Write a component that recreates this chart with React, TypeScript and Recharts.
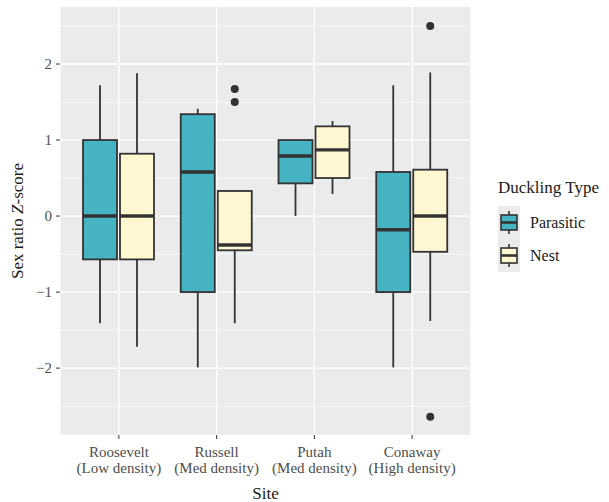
import { Bar, BarChart, CartesianGrid, Legend, XAxis, YAxis } from "recharts";

const sites = ["Roosevelt", "Russell", "Putah", "Conaway"];
const densities = ["(Low density)", "(Med density)", "(Med density)", "(High density)"];

const parasiticLow = [-1.41, -1.99, 0.0, -1.99];
const parasiticQ1 = [-0.57, -1.0, 0.43, -1.0];
const parasiticMedian = [0.0, 0.58, 0.79, -0.18];
const parasiticQ3 = [1.0, 1.34, 1.0, 0.58];
const parasiticHigh = [1.72, 1.41, 1.0, 1.72];
const parasiticOutliers: number[][] = [[], [], [], []];

const nestLow = [-1.72, -1.41, 0.29, -1.38];
const nestQ1 = [-0.57, -0.45, 0.5, -0.47];
const nestMedian = [0.0, -0.38, 0.87, 0.0];
const nestQ3 = [0.82, 0.33, 1.18, 0.61];
const nestHigh = [1.88, 0.33, 1.25, 1.89];
const nestOutliers: number[][] = [[], [1.5, 1.67], [], [2.5, -2.64]];

const seriesNames = ["Parasitic", "Nest"];
const yTicks = [-2, -1, 0, 1, 2];
const yMinor = [-2.5, -1.5, -0.5, 0.5, 1.5, 2.5];

const FONT = "Liberation Serif, Times New Roman, Times, Noto Serif, DejaVu Serif, FreeSerif, serif";
const INK = "#333333";
const PARASITIC = "#46B3C3";
const NEST = "#FFF7D2";
const seriesColors = [PARASITIC, NEST];

type Stats = { low: number; q1: number; med: number; q3: number; high: number; out: number[] };

const data = sites.map((site, i) => ({
  site,
  density: densities[i],
  parasitic: [parasiticLow[i], parasiticHigh[i]],
  nest: [nestLow[i], nestHigh[i]],
  parasiticStats: {
    low: parasiticLow[i],
    q1: parasiticQ1[i],
    med: parasiticMedian[i],
    q3: parasiticQ3[i],
    high: parasiticHigh[i],
    out: parasiticOutliers[i],
  },
  nestStats: {
    low: nestLow[i],
    q1: nestQ1[i],
    med: nestMedian[i],
    q3: nestQ3[i],
    high: nestHigh[i],
    out: nestOutliers[i],
  },
}));

// the range bar spans the whiskers; everything else is placed on the same linear scale
function BoxShape(props: any) {
  const { x, y, width, height, payload, fill, statsKey } = props;
  const s: Stats = payload[statsKey];
  const top = Math.min(y, y + height);
  const bot = Math.max(y, y + height);
  const toPx = (v: number) => bot - ((v - s.low) / (s.high - s.low)) * (bot - top);
  const cx = x + width / 2;
  return (
    <g>
      <line x1={cx} x2={cx} y1={toPx(s.high)} y2={toPx(s.q3)} stroke={INK} strokeWidth={1.8} />
      <line x1={cx} x2={cx} y1={toPx(s.q1)} y2={toPx(s.low)} stroke={INK} strokeWidth={1.8} />
      <rect
        x={x}
        y={toPx(s.q3)}
        width={width}
        height={toPx(s.q1) - toPx(s.q3)}
        fill={fill}
        stroke={INK}
        strokeWidth={1.8}
      />
      <line x1={x} x2={x + width} y1={toPx(s.med)} y2={toPx(s.med)} stroke={INK} strokeWidth={3.4} />
      {s.out.map((v, k) => (
        <circle key={k} cx={cx} cy={toPx(v)} r={4} fill={INK} />
      ))}
    </g>
  );
}

function SiteTick(props: any) {
  const { x, y, payload, index } = props;
  return (
    <text x={x} y={y} textAnchor="middle" fill="#4D4D4D" fontSize={15} style={{ fontFamily: FONT }}>
      <tspan x={x} dy={16}>
        {payload.value}
      </tspan>
      <tspan x={x} dy={16}>
        {densities[index]}
      </tspan>
    </text>
  );
}

function LegendKey({ color }: { color: string }) {
  return (
    <svg width={22} height={33} style={{ display: "block" }}>
      <rect x={0} y={0} width={22} height={33} fill="#EBEBEB" />
      <line x1={11} x2={11} y1={5} y2={28} stroke={INK} strokeWidth={1.6} />
      <rect x={3} y={9} width={16} height={15} fill={color} stroke={INK} strokeWidth={1.6} />
      <line x1={3} x2={19} y1={16.5} y2={16.5} stroke={INK} strokeWidth={2.6} />
    </svg>
  );
}

function DucklingLegend() {
  return (
    <div style={{ paddingLeft: 27, fontFamily: FONT, color: "#1A1A1A" }}>
      <div style={{ fontSize: 17, lineHeight: "20px", marginBottom: 8 }}>Duckling Type</div>
      {seriesNames.map((label, i) => (
        <div key={label} style={{ display: "flex", alignItems: "center", height: 33 }}>
          <LegendKey color={seriesColors[i]} />
          <span style={{ fontSize: 16, marginLeft: 10 }}>{label}</span>
        </div>
      ))}
    </div>
  );
}

export default function App() {
  return (
    <div
      style={{
        position: "absolute",
        left: 0,
        top: 0,
        width: 609,
        height: 502,
        background: "#fff",
        fontFamily: FONT,
      }}
    >
      <BarChart
        width={609}
        height={502}
        data={data}
        margin={{ top: 7, right: 0, bottom: 0, left: 0 }}
        barCategoryGap={13}
        barGap={3}
        style={{ fontFamily: FONT }}
      >
        <CartesianGrid
          fill="#EBEBEB"
          stroke="#FFFFFF"
          strokeWidth={0.6}
          vertical={false}
          horizontalValues={yMinor}
        />
        <CartesianGrid stroke="#FFFFFF" strokeWidth={1.3} horizontalValues={yTicks} />
        <XAxis
          dataKey="site"
          height={67}
          interval={0}
          axisLine={false}
          tickLine={{ stroke: INK }}
          tickSize={4}
          tickMargin={2}
          padding={{ left: 10, right: 10 }}
          tick={<SiteTick />}
          label={{
            content: ({ viewBox }: any) => (
              <text
                x={viewBox.x + viewBox.width / 2}
                y={viewBox.y + viewBox.height - 3}
                textAnchor="middle"
                fontSize={17}
                style={{ fontFamily: FONT }}
                fill="#1A1A1A"
              >
                Site
              </text>
            ),
          }}
        />
        <YAxis
          type="number"
          width={60}
          domain={[-2.88, 2.75]}
          allowDataOverflow
          ticks={yTicks}
          axisLine={false}
          tickLine={{ stroke: INK }}
          tickSize={4}
          tickMargin={4}
          tick={{ fill: "#4D4D4D", fontSize: 15, style: { fontFamily: FONT } }}
          tickFormatter={(v: number) => (v < 0 ? `\u2212${Math.abs(v)}` : `${v}`)}
          label={{
            content: ({ viewBox }: any) => {
              const cx = 17;
              const cy = viewBox.y + viewBox.height / 2;
              return (
                <text
                  x={cx}
                  y={cy}
                  transform={`rotate(-90, ${cx}, ${cy})`}
                  textAnchor="middle"
                  dominantBaseline="central"
                  fontSize={17}
                  style={{ fontFamily: FONT }}
                  fill="#1A1A1A"
                >
                  Sex ratio <tspan fontStyle="italic">Z</tspan>-score
                </text>
              );
            },
          }}
        />
        <Legend
          layout="vertical"
          align="right"
          verticalAlign="top"
          wrapperStyle={{ width: 138, top: 178 }}
          content={<DucklingLegend />}
        />
        <Bar
          dataKey="parasitic"
          name={seriesNames[0]}
          fill={PARASITIC}
          isAnimationActive={false}
          shape={(p: any) => <BoxShape {...p} statsKey="parasiticStats" />}
        />
        <Bar
          dataKey="nest"
          name={seriesNames[1]}
          fill={NEST}
          isAnimationActive={false}
          shape={(p: any) => <BoxShape {...p} statsKey="nestStats" />}
        />
      </BarChart>
    </div>
  );
}
